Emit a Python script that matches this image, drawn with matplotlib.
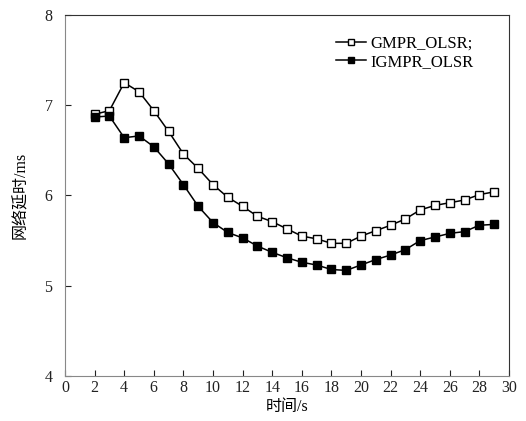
import matplotlib
matplotlib.use("Agg")
import matplotlib.pyplot as plt

plt.rcParams["font.family"] = ["Liberation Serif", "Noto Sans CJK SC"]

time_s = [2, 3, 4, 5, 6, 7, 8, 9, 10, 11, 12, 13, 14, 15,
          16, 17, 18, 19, 20, 21, 22, 23, 24, 25, 26, 27, 28, 29]
gmpr_olsr = [6.90, 6.94, 7.25, 7.15, 6.94, 6.71, 6.46, 6.30, 6.12, 5.98,
             5.88, 5.77, 5.71, 5.63, 5.55, 5.52, 5.47, 5.47, 5.55, 5.61,
             5.67, 5.74, 5.84, 5.89, 5.92, 5.95, 6.01, 6.04]
igmpr_olsr = [6.87, 6.88, 6.64, 6.66, 6.54, 6.35, 6.12, 5.88, 5.70, 5.59,
              5.53, 5.44, 5.37, 5.31, 5.26, 5.23, 5.18, 5.17, 5.23, 5.29,
              5.34, 5.40, 5.50, 5.54, 5.58, 5.60, 5.67, 5.68]
x_ticks = list(range(0, 31, 2))
y_ticks = [4, 5, 6, 7, 8]

fig = plt.figure(figsize=(5.26, 4.21), dpi=100)
ax = fig.add_axes([0.1236, 0.1069, 0.844, 0.8575])

ax.plot(time_s, gmpr_olsr, color="black", linewidth=1.1, marker="s",
        markersize=5.5, markerfacecolor="white", markeredgecolor="black",
        markeredgewidth=1.0, label="GMPR_OLSR;")
ax.plot(time_s, igmpr_olsr, color="black", linewidth=1.1, marker="s",
        markersize=5.5, markerfacecolor="black", markeredgecolor="black",
        label="IGMPR_OLSR")

ax.set_xlim(0, 30)
ax.set_ylim(4, 8)
ax.set_xticks(x_ticks)
ax.set_yticks(y_ticks)
ax.tick_params(direction="in", length=4, width=0.8, labelsize=11.5,
               colors="#222222")
ax.tick_params(axis="y", pad=9)
ax.tick_params(axis="x", pad=3)

for side in ["top", "right"]:
    ax.spines[side].set_color("#333333")
for side in ["left", "bottom"]:
    ax.spines[side].set_color("#888888")

ax.set_xlabel("时间/s", fontsize=11.5, labelpad=2)
ax.set_ylabel("网络延时/ms", fontsize=11.5, labelpad=11)

ax.legend(loc="upper right", bbox_to_anchor=(0.955, 0.985), frameon=False,
          fontsize=12, handlelength=1.8, markerscale=0.7, handletextpad=0.3,
          labelspacing=0.15)

fig.savefig("out.png", dpi=100)
